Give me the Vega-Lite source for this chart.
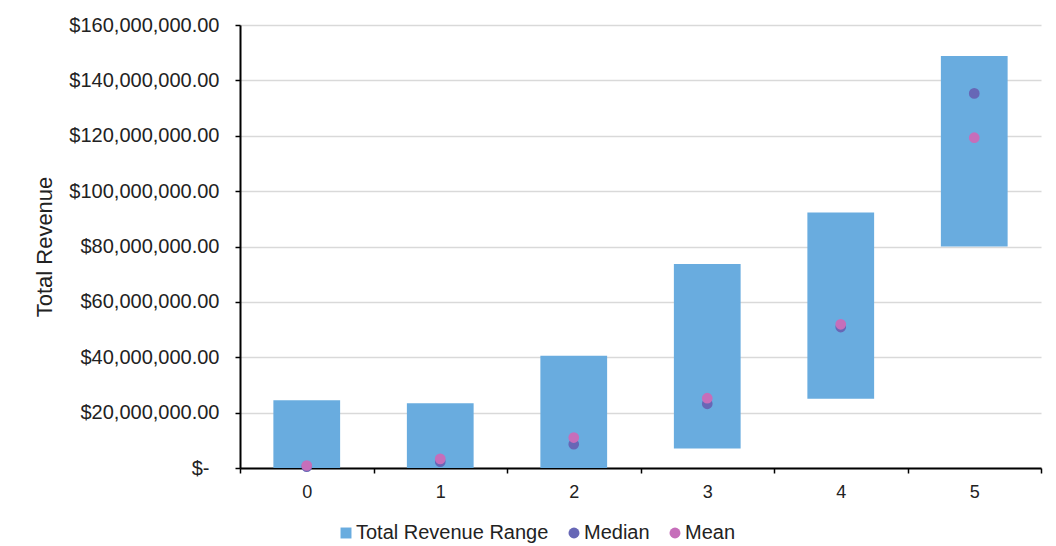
{
  "$schema": "https://vega.github.io/schema/vega-lite/v6.json",
  "autosize": {"type": "none"},
  "padding": {"left": 240, "top": 25, "right": 15, "bottom": 78},
  "width": 801,
  "height": 443,
  "background": "white",
  "datasets": {
    "ranges": [
      {"cat": "0", "low": 0, "high": 24500000},
      {"cat": "1", "low": 0, "high": 23400000},
      {"cat": "2", "low": 0, "high": 40500000},
      {"cat": "3", "low": 7000000, "high": 73700000},
      {"cat": "4", "low": 25000000, "high": 92300000},
      {"cat": "5", "low": 80000000, "high": 148800000}
    ],
    "points": [
      {"cat": "0", "series": "Median", "value": 500000},
      {"cat": "1", "series": "Median", "value": 2300000},
      {"cat": "2", "series": "Median", "value": 8600000},
      {"cat": "3", "series": "Median", "value": 23200000},
      {"cat": "4", "series": "Median", "value": 50900000},
      {"cat": "5", "series": "Median", "value": 135300000},
      {"cat": "0", "series": "Mean", "value": 900000},
      {"cat": "1", "series": "Mean", "value": 3300000},
      {"cat": "2", "series": "Mean", "value": 11000000},
      {"cat": "3", "series": "Mean", "value": 25200000},
      {"cat": "4", "series": "Mean", "value": 51900000},
      {"cat": "5", "series": "Mean", "value": 119300000}
    ]
  },
  "config": {
    "view": {"stroke": null},
    "font": "Liberation Sans",
    "axis": {
      "labelFont": "Liberation Sans",
      "titleFont": "Liberation Sans",
      "labelColor": "#222222",
      "titleColor": "#222222",
      "domainColor": "#000000",
      "tickColor": "#000000"
    },
    "legend": {"labelFont": "Liberation Sans", "labelColor": "#222222"}
  },
  "encoding": {
    "x": {
      "field": "cat",
      "type": "ordinal",
      "scale": {"paddingInner": 0, "paddingOuter": 0},
      "axis": {
        "title": null,
        "labelAngle": 0,
        "labelFontSize": 18,
        "labelPadding": 10,
        "tickBand": "extent",
        "tickSize": 5,
        "tickWidth": 1.5,
        "domainWidth": 2,
        "grid": false
      }
    }
  },
  "layer": [
    {
      "data": {"name": "ranges"},
      "mark": {"type": "bar", "color": "#69ACDF", "width": {"band": 0.5}},
      "encoding": {
        "y": {
          "field": "low",
          "type": "quantitative",
          "scale": {"domain": [0, 160000000], "nice": false},
          "axis": {
            "title": "Total Revenue",
            "titleFontSize": 22,
            "titleFontWeight": "normal",
            "titlePadding": 12,
            "values": [0, 20000000, 40000000, 60000000, 80000000, 100000000, 120000000, 140000000, 160000000],
            "labelExpr": "datum.value == 0 ? '$-' : format(datum.value, '$,.2f')",
            "labelFontSize": 20,
            "labelPadding": {"condition": {"test": "datum.value == 0", "value": 26}, "value": 16},
            "tickSize": 5,
            "tickWidth": 1.5,
            "domainWidth": 2,
            "grid": true,
            "gridColor": "#D9D9D9",
            "gridWidth": 1.5
          }
        },
        "y2": {"field": "high"}
      }
    },
    {
      "data": {"name": "points"},
      "mark": {"type": "point", "filled": true, "opacity": 1, "size": 115},
      "encoding": {
        "y": {"field": "value", "type": "quantitative"},
        "color": {
          "field": "series",
          "type": "nominal",
          "scale": {
            "domain": ["Total Revenue Range", "Median", "Mean"],
            "range": ["#69ACDF", "#6767B6", "#C66EBA"]
          },
          "legend": {
            "title": null,
            "orient": "none",
            "direction": "horizontal",
            "legendX": 96,
            "legendY": 498,
            "labelFontSize": 20,
            "labelLimit": 400,
            "symbolSize": 120,
            "columnPadding": 15,
            "labelOffset": 0
          }
        },
        "shape": {
          "field": "series",
          "type": "nominal",
          "scale": {
            "domain": ["Total Revenue Range", "Median", "Mean"],
            "range": ["square", "circle", "circle"]
          },
          "legend": null
        }
      }
    }
  ]
}
